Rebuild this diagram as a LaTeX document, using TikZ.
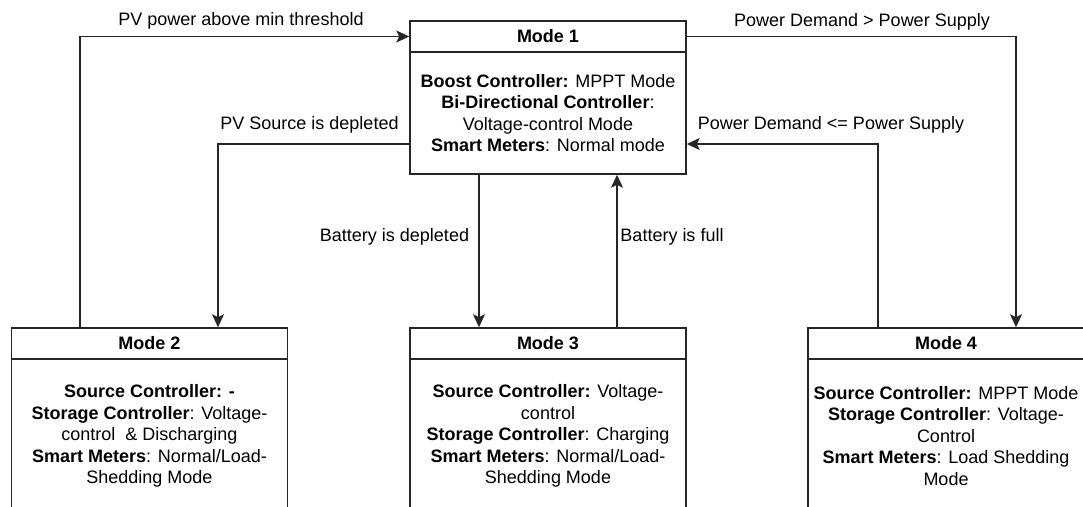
\documentclass[tikz,border=0pt]{standalone}
\usepackage{fontspec}
\setmainfont{Liberation Sans}
\usetikzlibrary{arrows.meta}
\begin{document}
\begin{tikzpicture}[x=1pt,y=-1pt,
  font=\fontsize{18}{21.5}\selectfont,
  box/.style={draw=black!85, line width=1.5pt, minimum width=276pt, inner sep=0pt},
  hdr/.style={box, minimum height=31pt, font=\fontsize{18}{21.5}\selectfont\bfseries},
  body/.style={align=center, inner sep=0pt},
  lbl/.style={inner sep=0pt, anchor=center},
  conn/.style={draw=black!85, line width=1.5pt, -{Stealth[length=13pt,width=12pt,inset=3pt]}}]
\useasboundingbox (0,0) rectangle (1083,506);
\clip (0,0) rectangle (1083,506);

% Mode 1
\node[box, minimum height=153pt] (m1) at (548,97.5) {};
\node[hdr] (m1h) at (548,36.5) {Mode 1};
\node[body] (m1b) at (548,113) {\textbf{Boost Controller:} MPPT Mode\\ \textbf{Bi-Directional Controller}:\\ Voltage-control Mode\\ \textbf{Smart Meters}: Normal mode};

% Mode 2
\node[box, minimum height=185pt] (m2) at (149.5,420.5) {};
\node[hdr] (m2h) at (149.5,343.5) {Mode 2};
\node[body] (m2b) at (149.5,436) {\textbf{Source Controller: -}\\ \textbf{Storage Controller}: Voltage-\\ control \ \& Discharging\\ \textbf{Smart Meters}: Normal/Load-\\ Shedding Mode};

% Mode 3
\node[box, minimum height=185pt] (m3) at (548,420.5) {};
\node[hdr] (m3h) at (548,343.5) {Mode 3};
\node[body] (m3b) at (548,436) {\textbf{Source Controller:} Voltage-\\ control\\ \textbf{Storage Controller}: Charging\\ \textbf{Smart Meters}: Normal/Load-\\ Shedding Mode};

% Mode 4
\node[box, minimum height=185pt] (m4) at (946,420.5) {};
\node[hdr] (m4h) at (946,343.5) {Mode 4};
\node[body] (m4b) at (946,436) {\textbf{Source Controller:} MPPT Mode\\ \textbf{Storage Controller}: Voltage-\\ Control\\ \textbf{Smart Meters}: Load Shedding\\ Mode};

% connectors
\draw[conn] ([xshift=-69.5pt]m2.north) |- (m1h.west);
\draw[conn] ([yshift=-46.5pt]m1.west) -| ([xshift=68.5pt]m2.north);
\draw[conn] ([xshift=-69pt]m1.south) -- ([xshift=-69pt]m3.north);
\draw[conn] ([xshift=69pt]m3.north) -- ([xshift=69pt]m1.south);
\draw[conn] (m1h.east) -| ([xshift=70pt]m4.north);
\draw[conn] ([xshift=-68pt]m4.north) |- ([yshift=-46.5pt]m1.east);

% labels
\node[lbl] (l1) at (241,21) {PV power above min threshold};
\node[lbl] (l2) at (309.5,125) {PV Source is depleted};
\node[lbl] (l3) at (862,22) {Power Demand > Power Supply};
\node[lbl] (l4) at (831,125) {Power Demand <= Power Supply};
\node[lbl] (l5) at (394.5,237) {Battery is depleted};
\node[lbl] (l6) at (672,237) {Battery is full};
\end{tikzpicture}
\end{document}
